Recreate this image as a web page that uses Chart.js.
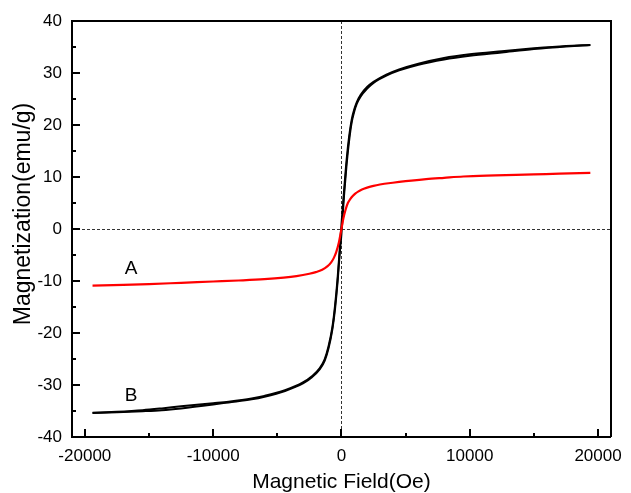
<!DOCTYPE html>
<html>
<head>
<meta charset="utf-8">
<script src="https://cdn.jsdelivr.net/npm/chart.js@4/dist/chart.umd.min.js"></script>
<style>
  html, body { margin: 0; padding: 0; background: #fff; }
  #wrap { width: 631px; height: 493px; position: relative; }
</style>
</head>
<body>
<div id="wrap"><canvas id="c"></canvas></div>
<script>
// Sample A: single magnetization curve (Oe, emu/g)
const fieldA = [-19400, -17000, -15000, -12500, -10000, -8000, -6000, -4500, -3500, -2500, -2000, -1500, -1100, -800, -600, -400, -200, 0,
                150, 300, 500, 700, 900, 1100, 1300, 1600, 2000, 2500, 3000, 4000, 5000, 6600, 8000, 9500, 12000, 15000, 17000, 19400];
const magA   = [-10.9, -10.75, -10.6, -10.35, -10.1, -9.9, -9.65, -9.35, -9.05, -8.6, -8.3, -7.85, -7.2, -6.4, -5.6, -4.4, -2.6, 0,
                2.0, 3.5, 5.0, 5.8, 6.4, 6.85, 7.2, 7.6, 7.95, 8.3, 8.55, 8.9, 9.2, 9.6, 9.85, 10.1, 10.3, 10.5, 10.65, 10.8];

// Sample B: hysteresis loop, descending branch (high field -> low field)
const fieldBDown = [19400, 17500, 15000, 12500, 10000, 8000, 6000, 4500, 3500, 2500, 2000, 1500, 1200, 1000, 800, 600, 400, 200, 0,
                    -150, -300, -500, -700, -1000, -1300, -1700, -2300, -3000, -4400, -6000, -7000, -8800, -10000, -12500, -14000, -15500, -17500, -19400];
const magBDown   = [35.4, 35.2, 34.75, 34.2, 33.6, 32.9, 31.8, 30.7, 29.7, 28.3, 27.3, 25.8, 24.4, 23.0, 21.0, 17.8, 13.2, 7.2, 0.8,
                    -4.5, -9.5, -14.8, -18.8, -22.5, -25.0, -26.8, -28.3, -29.5, -31.0, -32.1, -32.6, -33.2, -33.5, -34.1, -34.5, -34.85, -35.15, -35.35];

// Sample B: ascending branch (low field -> high field)
const fieldBUp = [-19400, -17500, -15500, -14000, -12500, -10000, -8800, -7000, -6000, -4400, -3000, -2300, -1700, -1300, -1000, -700, -500, -300, -150, 0,
                  200, 400, 600, 800, 1000, 1200, 1500, 2000, 2500, 3500, 4500, 6000, 8000, 10000, 12500, 15000, 17500, 19400];
const magBUp   = [-35.4, -35.25, -35.05, -34.85, -34.5, -33.75, -33.35, -32.75, -32.25, -31.15, -29.7, -28.5, -27.0, -25.3, -22.9, -19.2, -15.4, -10.2, -5.2, -1.0,
                  6.3, 12.3, 17.0, 20.5, 22.6, 24.1, 25.5, 27.0, 28.1, 29.5, 30.5, 31.6, 32.6, 33.3, 33.95, 34.6, 35.1, 35.4];

// Axis ticks
const xTicks = [-20000, -10000, 0, 10000, 20000];
const xMinorTicks = [-15000, -5000, 5000, 15000];
const yTicks = [-40, -30, -20, -10, 0, 10, 20, 30, 40];
const yMinorTicks = [-35, -25, -15, -5, 5, 15, 25, 35];

// Curve labels placed in data coordinates
const curveLabels = [
  { text: 'A', x: -16400, y: -7.7 },
  { text: 'B', x: -16400, y: -32.0 }
];

const xTitle = 'Magnetic Field(Oe)';
const yTitle = 'Magnetization(emu/g)';

const FONT = '"Liberation Sans", Arial, Helvetica, sans-serif';

const toPoints = (xs, ys) => xs.map((x, i) => ({ x: x, y: ys[i] }));

// Zero reference lines under the curves
const zeroLines = {
  id: 'zeroLines',
  beforeDatasetsDraw(chart) {
    const { ctx, chartArea: a, scales: { x, y } } = chart;
    ctx.save();
    ctx.strokeStyle = '#333';
    ctx.lineWidth = 1;
    ctx.setLineDash([3, 2]);
    const x0 = Math.round(x.getPixelForValue(0)) + 0.5;
    const y0 = Math.round(y.getPixelForValue(0)) + 0.5;
    ctx.beginPath();
    ctx.moveTo(x0, a.top); ctx.lineTo(x0, a.bottom);
    ctx.moveTo(a.left, y0); ctx.lineTo(a.right, y0);
    ctx.stroke();
    ctx.restore();
  }
};

// Top and right edges of the box, inward ticks, curve labels and axis titles
const decorations = {
  id: 'decorations',
  afterDraw(chart) {
    const { ctx, chartArea: a, scales: { x, y } } = chart;
    ctx.save();
    ctx.fillStyle = '#000';
    ctx.strokeStyle = '#000';

    const L = Math.round(a.left), R = Math.round(a.right), T = Math.round(a.top), B = Math.round(a.bottom);
    ctx.lineWidth = 2;
    ctx.beginPath();
    ctx.moveTo(L, T);
    ctx.lineTo(R, T);
    ctx.lineTo(R, B);
    ctx.stroke();

    // tick marks pointing into the plot
    xTicks.forEach(v => { const p = Math.round(x.getPixelForValue(v)); ctx.fillRect(p - 1, B - 8, 2, 8); });
    xMinorTicks.forEach(v => { const p = Math.round(x.getPixelForValue(v)); ctx.fillRect(p - 1, B - 4, 2, 4); });
    yTicks.forEach(v => { const p = Math.round(y.getPixelForValue(v)); ctx.fillRect(L, p - 1, 8, 2); });
    yMinorTicks.forEach(v => { const p = Math.round(y.getPixelForValue(v)); ctx.fillRect(L, p - 1, 4, 2); });

    ctx.font = '19px ' + FONT;
    ctx.textAlign = 'center';
    ctx.textBaseline = 'middle';
    curveLabels.forEach(l => ctx.fillText(l.text, x.getPixelForValue(l.x), y.getPixelForValue(l.y)));

    ctx.textBaseline = 'alphabetic';
    ctx.font = '21px ' + FONT;
    ctx.fillText(xTitle, (a.left + a.right) / 2, 488);

    ctx.font = '23px ' + FONT;
    ctx.translate(30, 214);
    ctx.rotate(-Math.PI / 2);
    ctx.fillText(yTitle, 0, 0);
    ctx.restore();
  }
};

new Chart(document.getElementById('c'), {
  type: 'line',
  data: {
    datasets: [
      { label: 'A', data: toPoints(fieldA, magA), borderColor: '#ff0000', borderWidth: 2.2 },
      { label: 'B (descending)', data: toPoints(fieldBDown, magBDown), borderColor: '#000', borderWidth: 2 },
      { label: 'B (ascending)', data: toPoints(fieldBUp, magBUp), borderColor: '#000', borderWidth: 2 }
    ]
  },
  options: {
    responsive: true,
    maintainAspectRatio: false,
    animation: false,
    layout: { padding: { top: 21, right: 14, left: 0, bottom: 0 } },
    elements: { point: { radius: 0, hoverRadius: 0 }, line: { fill: false, cubicInterpolationMode: 'monotone' } },
    plugins: { legend: { display: false }, tooltip: { enabled: false } },
    scales: {
      x: {
        type: 'linear',
        min: -21000, max: 21000,
        grid: { display: false, drawTicks: false },
        border: { display: true, color: '#000', width: 2 },
        afterFit: s => { s.height = 56; },
        afterBuildTicks: s => { s.ticks = xTicks.map(v => ({ value: v })); },
        ticks: { color: '#000', font: { family: FONT, size: 17 }, padding: 9, maxRotation: 0, callback: v => String(v) }
      },
      y: {
        type: 'linear',
        min: -40, max: 40,
        grid: { display: false, drawTicks: false },
        border: { display: true, color: '#000', width: 2 },
        afterFit: s => { s.width = 72; },
        afterBuildTicks: s => { s.ticks = yTicks.map(v => ({ value: v })); },
        ticks: { color: '#000', font: { family: FONT, size: 17 }, padding: 10, callback: v => String(v) }
      }
    }
  },
  plugins: [zeroLines, decorations]
});
</script>
</body>
</html>
